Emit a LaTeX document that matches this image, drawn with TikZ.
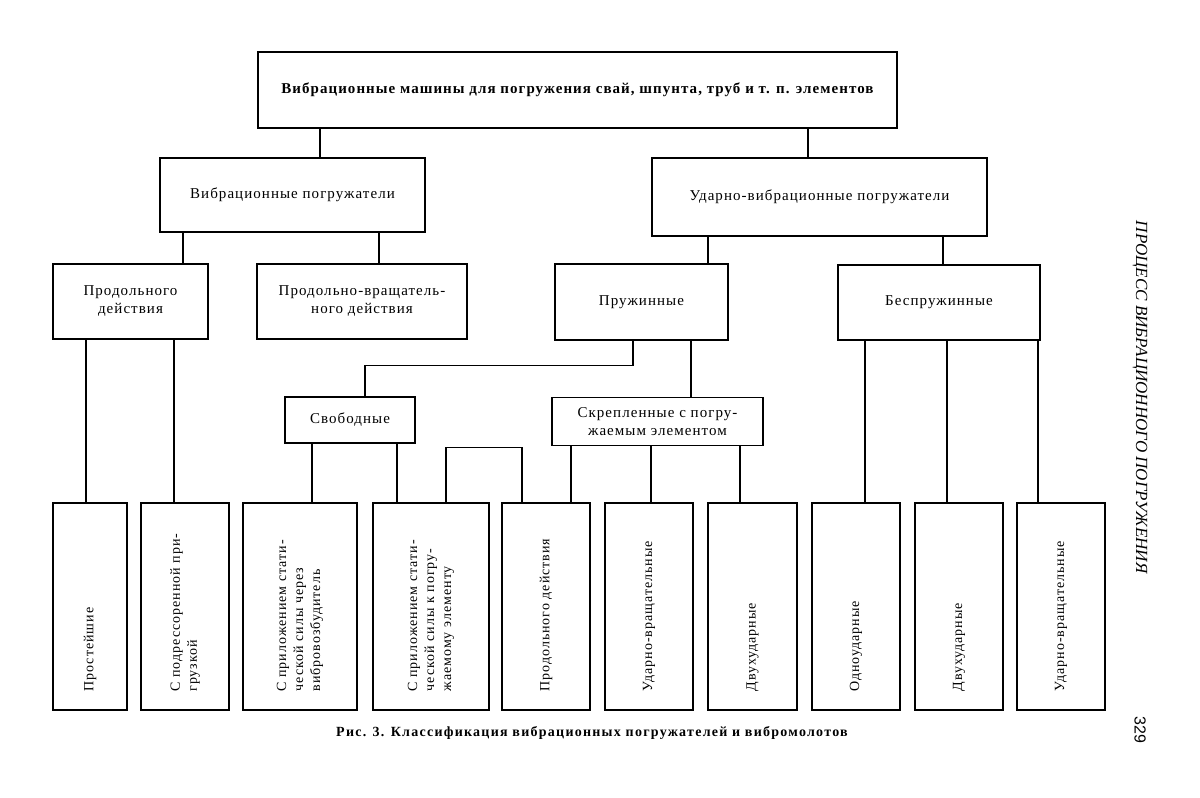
\documentclass[tikz,border=0pt]{standalone}
\usepackage{fontspec}
\setmainfont{Liberation Serif}
\newfontfamily\boxfont[LetterSpace=7]{Liberation Serif}
\newfontfamily\headfont[LetterSpace=7]{Liberation Serif}
\newfontfamily\capfont[LetterSpace=9]{Liberation Serif}
\newfontfamily\numfont{Liberation Sans}
\usetikzlibrary{positioning}
\tikzset{
  every picture/.style={line width=1.4pt},
  box/.style={draw, inner sep=0pt, align=center, font=\boxfont\fontsize{15}{18}\selectfont},
  tall/.style={box, rotate=90, minimum width=207pt, minimum height=#1pt, text width=170pt, align=left, font=\boxfont\fontsize{14}{17}\selectfont},
  conn/.style={line width=1.3pt},
}
\begin{document}
\begin{tikzpicture}[x=1pt, y=-1pt]
\fill[white] (0,0) rectangle (1200,798);
\useasboundingbox (0,0) rectangle (1200,798);
% upper levels
\node[box, minimum width=639pt, minimum height=76pt, font=\headfont\bfseries\fontsize{15}{18}\selectfont] (top) at (577.5,90) {Вибрационные машины для погружения свай, шпунта, труб и т. п. элементов};
\node[box, minimum width=265pt, minimum height=74pt] (vib) at (292.5,195) {Вибрационные погружатели};
\node[box, minimum width=335pt, minimum height=78pt] (udv) at (819.5,197) {Ударно-вибрационные погружатели};
\node[box, minimum width=155pt, minimum height=75pt] (prod) at (130.5,301.5) {Продольного\\действия};
\node[box, minimum width=210pt, minimum height=75pt] (pvr) at (362,301.5) {Продольно-вращатель-\\ного действия};
\node[box, minimum width=173pt, minimum height=76pt] (pruzh) at (641.5,302) {Пружинные};
\node[box, minimum width=202pt, minimum height=75pt] (bespr) at (939,302.5) {Беспружинные};
\node[box, minimum width=130pt, minimum height=46pt] (svob) at (350,420) {Свободные};
\node[box, minimum width=211pt, minimum height=48pt] (skr) at (657.5,421.5) {Скрепленные с погру-\\жаемым элементом};
% bottom row
\foreach \n/\x/\w/\t in {b1/90/74/{Простейшие}, b2/185/88/{С подрессоренной при-\\грузкой}, b3/300/114/{С приложением стати-\\ческой силы через\\вибровозбудитель}, b4/431/116/{С приложением стати-\\ческой силы к погру-\\жаемому элементу}, b5/546/88/{Продольного действия}, b6/649/88/{Ударно-вращательные}, b7/752.5/89/{Двухударные}, b8/856/88/{Одноударные}, b9/959/88/{Двухударные}, b10/1061/88/{Ударно-вращательные}}
  \node[tall=\w] (\n) at (\x,606.5) {\t};
% connectors
\foreach \a/\b/\x in {top.south/vib.north/320, top.south/udv.north/808, vib.south/prod.north/183, vib.south/pvr.north/379, udv.south/pruzh.north/708, udv.south/bespr.north/943, prod.south/b1.east/86, prod.south/b2.east/174, pruzh.south/skr.north/691, svob.south/b3.east/312, svob.south/b4.east/397, skr.south/b5.east/571, skr.south/b6.east/651, skr.south/b7.east/740, bespr.south/b8.east/865, bespr.south/b9.east/947, bespr.south/b10.east/1038}
  \draw[conn] (\a -| \x,0) -- (\b -| \x,0);
\draw[conn] (pruzh.south -| 633,0) -- ++(0,25) -| (svob.north -| 365,0);
\draw[conn] (b4.east -| 446,0) -- ++(0,-55) -| (b5.east -| 522,0);
% caption and page margin
\node[font=\capfont\bfseries\fontsize{14}{16}\selectfont] (cap) at (592,733) {Рис. 3. Классификация вибрационных погружателей и вибромолотов};
\node[rotate=-90, font=\itshape\fontsize{17}{20}\selectfont] (side) at (1140,397) {ПРОЦЕСС ВИБРАЦИОННОГО ПОГРУЖЕНИЯ};
\node[rotate=-90, font=\numfont\fontsize{16}{18}\selectfont] (page) at (1140,730) {329};
\end{tikzpicture}
\end{document}
